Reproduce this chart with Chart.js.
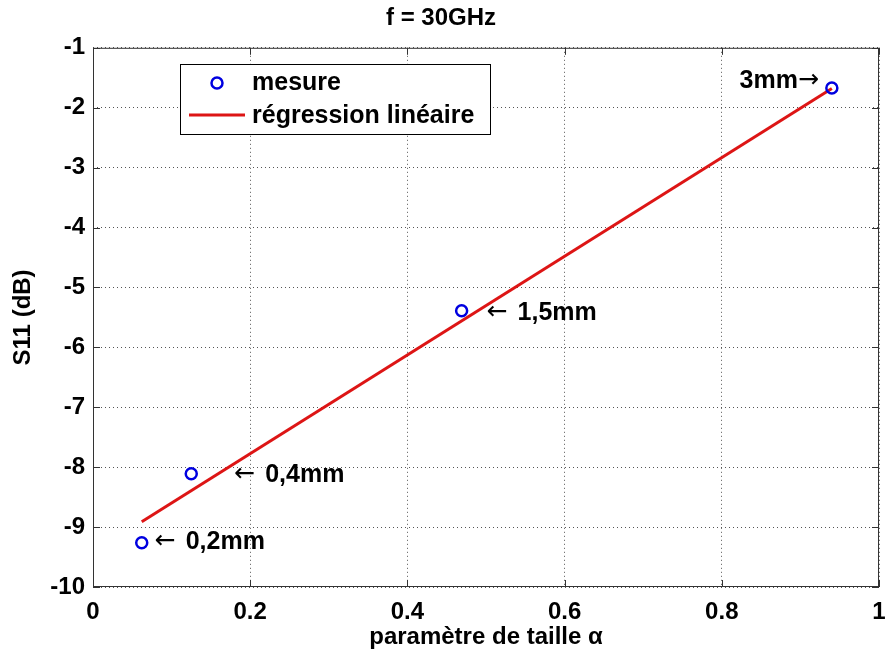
<!DOCTYPE html>
<html>
<head>
<meta charset="utf-8">
<script src="https://cdn.jsdelivr.net/npm/chart.js@4/dist/chart.umd.min.js"></script>
<style>
    html, body { margin: 0; padding: 0; background: #fff; }
    #wrap { width: 887px; height: 653px; }
</style>
</head>
<body>
<div id="wrap"><canvas id="s11-chart"></canvas></div>
<script>
// mesures
const mesureX = [0.062, 0.125, 0.469, 0.940];
const mesureY = [-9.26, -8.11, -5.39, -1.67];
const mesureLabels = ["← 0,2mm", "← 0,4mm", "← 1,5mm", "3mm→"];

// régression linéaire (extrémités)
const regX = [0.062, 0.940];
const regY = [-8.91, -1.68];

const xTicks = [0, 0.2, 0.4, 0.6, 0.8, 1];
const yTicks = [-10, -9, -8, -7, -6, -5, -4, -3, -2, -1];

const FONT = "Liberation Sans, Arial, Helvetica, sans-serif";
const ARROW_FONT = "25px DejaVu Sans";
const BLUE = "#0000e0";
const RED = "#dd1515";

// décalage des étiquettes (px) par rapport au point
const labelOffsets = [[13, -1, "left"], [43, 1, "left"], [25, 2, "left"], [-13, -7, "right"]];

function drawLabel(ctx, text, x, y, align) {
    const textFont = "bold 25px " + FONT;
    ctx.textAlign = "left";
    if (text.startsWith("←")) {
        ctx.font = ARROW_FONT;
        ctx.fillText("←", x, y);
        const w = ctx.measureText("←").width + 10;
        ctx.font = textFont;
        ctx.fillText(text.slice(1).trim(), x + w, y);
    } else if (text.endsWith("→")) {
        ctx.font = ARROW_FONT;
        const aw = ctx.measureText("→").width;
        ctx.fillText("→", x - aw, y);
        ctx.font = textFont;
        const body = text.slice(0, -1);
        ctx.fillText(body, x - aw - ctx.measureText(body).width, y);
    } else {
        ctx.font = textFont;
        ctx.textAlign = align;
        ctx.fillText(text, x, y);
    }
}

const matlabBox = {
    id: "matlabBox",
    afterDraw(chart) {
        const ctx = chart.ctx;
        const a = chart.chartArea;
        const xs = chart.scales.x, ys = chart.scales.y;
        ctx.save();
        ctx.strokeStyle = "#333";
        ctx.lineWidth = 1;
        ctx.strokeRect(a.left + 0.5, a.top + 0.5, a.right - a.left - 1, a.bottom - a.top - 1);
        ctx.beginPath();
        xTicks.forEach(v => {
            const px = Math.round(xs.getPixelForValue(v)) + 0.5;
            ctx.moveTo(px, a.bottom); ctx.lineTo(px, a.bottom - 7);
            ctx.moveTo(px, a.top); ctx.lineTo(px, a.top + 7);
        });
        yTicks.forEach(v => {
            const py = Math.round(ys.getPixelForValue(v)) + 0.5;
            ctx.moveTo(a.left, py); ctx.lineTo(a.left + 7, py);
            ctx.moveTo(a.right, py); ctx.lineTo(a.right - 7, py);
        });
        ctx.stroke();

        // étiquettes des points
        ctx.fillStyle = "#000";
        ctx.textBaseline = "middle";
        mesureLabels.forEach((t, i) => {
            const o = labelOffsets[i];
            drawLabel(ctx, t, xs.getPixelForValue(mesureX[i]) + o[0], ys.getPixelForValue(mesureY[i]) + o[1], o[2]);
        });

        // légende
        const lx = 180, ly = 64, lw = 310, lh = 70;
        ctx.fillStyle = "#fff";
        ctx.fillRect(lx, ly, lw, lh);
        ctx.strokeStyle = "#000";
        ctx.lineWidth = 1;
        ctx.strokeRect(lx + 0.5, ly + 0.5, lw, lh);
        ctx.strokeStyle = BLUE;
        ctx.lineWidth = 2.5;
        ctx.beginPath();
        ctx.arc(lx + 37, ly + 19, 5.5, 0, Math.PI * 2);
        ctx.stroke();
        ctx.strokeStyle = RED;
        ctx.lineWidth = 3;
        ctx.beginPath();
        ctx.moveTo(lx + 9, ly + 51); ctx.lineTo(lx + 65, ly + 51);
        ctx.stroke();
        ctx.fillStyle = "#000";
        ctx.font = "bold 25px " + FONT;
        ctx.textAlign = "left";
        ctx.fillText(chart.data.datasets[0].label, lx + 72, ly + 19);
        ctx.fillText(chart.data.datasets[1].label, lx + 72, ly + 52);
        ctx.restore();
    }
};

new Chart(document.querySelector("#s11-chart"), {
    type: "scatter",
    data: {
        datasets: [
            {
                label: "mesure",
                data: mesureX.map((x, i) => ({ x: x, y: mesureY[i] })),
                pointStyle: "circle",
                pointRadius: 5.5,
                pointBorderWidth: 2.5,
                pointBorderColor: BLUE,
                pointBackgroundColor: "rgba(0,0,0,0)",
                showLine: false,
                order: 0,
            },
            {
                label: "régression linéaire",
                data: regX.map((x, i) => ({ x: x, y: regY[i] })),
                showLine: true,
                borderColor: RED,
                borderWidth: 3,
                pointRadius: 0,
                order: 1,
            },
        ],
    },
    options: {
        responsive: true,
        maintainAspectRatio: false,
        animation: false,
        layout: { padding: { left: 0, right: 5, top: 0, bottom: 0 } },
        plugins: {
            legend: { display: false },
            tooltip: { enabled: false },
            title: {
                display: true,
                text: "f = 30GHz",
                color: "#000",
                font: { family: FONT, size: 24, weight: "bold" },
                padding: { top: 4, bottom: 15 },
            },
        },
        scales: {
            x: {
                type: "linear",
                min: 0, max: 1,
                afterBuildTicks: s => { s.ticks = xTicks.map(v => ({ value: v })); },
                afterFit: s => { s.height = 66; s.paddingLeft = 0; s.paddingRight = 0; },
                ticks: {
                    color: "#000",
                    font: { family: FONT, size: 24, weight: "bold" },
                    padding: 11,
                    maxRotation: 0,
                    callback: v => String(v),
                },
                grid: { color: "#555", drawTicks: false, lineWidth: 1 },
                border: { display: false, dash: [1, 3] },
                title: {
                    display: true,
                    text: "paramètre de taille α",
                    color: "#000",
                    font: { family: FONT, size: 24, weight: "bold" },
                    padding: { top: 0, bottom: 1 },
                },
            },
            y: {
                type: "linear",
                min: -10, max: -1,
                afterBuildTicks: s => { s.ticks = yTicks.map(v => ({ value: v })); },
                afterFit: s => { s.width = 93; },
                ticks: {
                    color: "#000",
                    font: { family: FONT, size: 24, weight: "bold" },
                    padding: 8,
                    callback: v => String(v),
                },
                grid: { color: "#555", drawTicks: false, lineWidth: 1 },
                border: { display: false, dash: [1, 3] },
                title: {
                    display: true,
                    text: "S11 (dB)",
                    color: "#000",
                    font: { family: FONT, size: 24, weight: "bold" },
                    padding: { top: 9, bottom: 0 },
                },
            },
        },
    },
    plugins: [matlabBox],
});
</script>
</body>
</html>
